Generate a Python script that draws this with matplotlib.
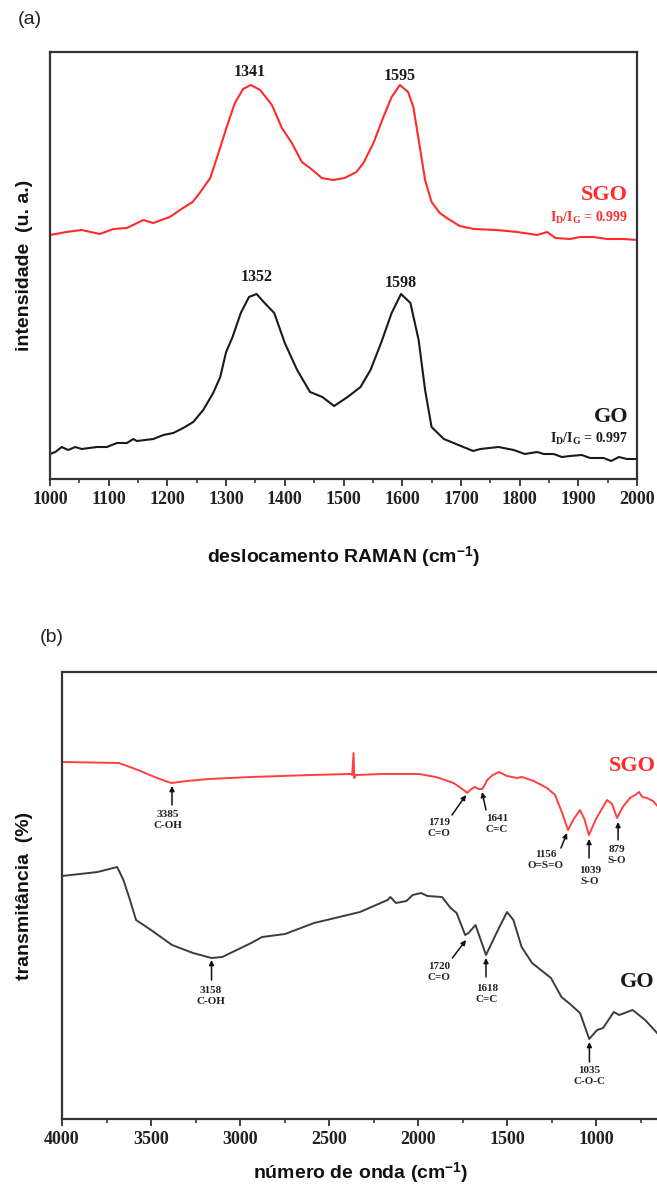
import matplotlib
matplotlib.use("Agg")
import matplotlib.pyplot as plt
from matplotlib.ticker import MultipleLocator, FixedLocator

# ---------------- data: Raman (a) ----------------
raman_sgo_x = [1000, 1028, 1054, 1085, 1108, 1131, 1159, 1176, 1204, 1224, 1243, 1255, 1273, 1287,
               1301, 1315, 1329, 1342, 1358, 1378, 1395, 1412, 1429, 1443, 1463, 1482, 1502, 1522,
               1534, 1551, 1568, 1582, 1596, 1610, 1619, 1630, 1639, 1650, 1664, 1676, 1698, 1722,
               1761, 1796, 1830, 1847, 1861, 1886, 1903, 1926, 1949, 1977, 2000]
raman_sgo_y = [244, 247, 249, 245, 250, 251, 259, 256, 262, 270, 277, 286, 301, 326,
               352, 376, 390, 394, 389, 374, 351, 336, 317, 311, 301, 299, 301, 307,
               316, 336, 362, 382, 394, 387, 372, 332, 299, 277, 266, 261, 253, 250,
               249, 247, 244, 247, 241, 240, 242, 242, 240, 240, 239]

raman_go_x = [1000, 1009, 1020, 1031, 1043, 1054, 1080, 1097, 1114, 1131, 1142, 1148, 1176, 1193,
              1210, 1227, 1244, 1261, 1278, 1290, 1300, 1311, 1325, 1339, 1352, 1364, 1382, 1400,
              1421, 1443, 1464, 1484, 1507, 1529, 1546, 1564, 1582, 1598, 1614, 1628, 1639, 1650,
              1671, 1700, 1721, 1733, 1764, 1790, 1809, 1830, 1841, 1858, 1872, 1886, 1906, 1920,
              1943, 1956, 1969, 1983, 2000]
raman_go_y = [25, 27, 32, 29, 32, 30, 32, 32, 36, 36, 40, 38, 40, 44,
              46, 51, 57, 69, 86, 102, 127, 142, 166, 182, 185, 177, 166, 136,
              109, 87, 82, 73, 82, 92, 109, 136, 166, 185, 176, 139, 89, 52,
              40, 33, 28, 30, 32, 29, 25, 27, 25, 25, 22, 23, 24, 21,
              21, 18, 22, 20, 20]

raman_peaks_sgo = [1341, 1595]
raman_peaks_go = [1352, 1598]
ratio_sgo = "0.999"
ratio_go = "0.997"

# ---------------- data: FTIR (b) ----------------
ftir_sgo_x = [4000, 3680, 3573, 3480, 3404, 3385, 3300, 3174, 2938, 2600, 2380, 2370, 2362, 2358,
              2350, 2200, 1994, 1899, 1800, 1736, 1725, 1700, 1680, 1660, 1640, 1625, 1612, 1580,
              1545, 1500, 1444, 1416, 1350, 1275, 1230, 1190, 1157, 1125, 1090, 1065, 1040, 1000,
              938, 910, 882, 850, 809, 780, 758, 740, 713, 680, 640]
ftir_sgo_y = [357, 356, 349, 342, 337, 336, 338, 340, 342, 344, 345, 344, 366, 341,
              344, 345, 345, 342, 336, 328, 326, 330, 332, 330, 330, 334, 339, 344,
              347, 343, 341, 342, 338, 331, 324, 306, 289, 300, 309, 300, 284, 300,
              319, 315, 301, 312, 321, 324, 327, 322, 321, 318, 310]

ftir_go_x = [4000, 3800, 3690, 3655, 3618, 3584, 3500, 3382, 3264, 3160, 3100, 2937, 2876, 2747,
             2584, 2466, 2326, 2171, 2155, 2124, 2065, 2030, 1983, 1947, 1865, 1817, 1783, 1735,
             1716, 1677, 1618, 1559, 1500, 1464, 1418, 1359, 1253, 1194, 1146, 1090, 1038, 994,
             960, 900, 870, 794, 724, 657, 640]
ftir_go_y = [243, 247, 252, 239, 219, 199, 189, 174, 166, 161, 162, 176, 182, 185,
             196, 201, 207, 219, 222, 216, 218, 224, 226, 223, 222, 211, 206, 184,
             186, 194, 164, 186, 207, 199, 172, 156, 141, 122, 115, 106, 80, 89,
             91, 107, 104, 109, 99, 86, 82]

ftir_ticks = [4000, 3500, 3000, 2500, 2000, 1500, 1000]

# annotations: (label, arrow tail x, tail y, head x, head y, text x, text y)
ftir_sgo_notes = [("3385\nC-OH", 3382, 314, 3382, 333, 3404, 299),
                  ("1719\nC=O", 1809, 304, 1730, 324, 1882, 291),
                  ("1641\nC=C", 1618, 309, 1640, 327, 1556, 295),
                  ("1156\nO=S=O", 1197, 271, 1163, 286, 1281, 259),
                  ("1039\nS-O", 1039, 261, 1039, 280, 1034, 243),
                  ("879\nS-O", 876, 279, 876, 297, 882, 264)]
ftir_go_notes = [("3158\nC-OH", 3160, 139, 3160, 159, 3163, 123),
                 ("1720\nC=O", 1807, 161, 1730, 179, 1882, 147),
                 ("1618\nC=C", 1618, 142, 1618, 161, 1612, 125),
                 ("1035\nC-O-C", 1037, 57, 1037, 77, 1039, 43)]

# ---------------- style ----------------
W, H = 657, 1185
fig = plt.figure(figsize=(W / 100, H / 100), dpi=100)
SANS = "Liberation Sans"
SERIF = "Liberation Serif"
RED = "#ff2b2b"
SPINE = "#333333"
plt.rcParams["mathtext.fontset"] = "custom"
plt.rcParams["mathtext.rm"] = SERIF
plt.rcParams["mathtext.bf"] = SERIF + ":bold"
plt.rcParams["mathtext.it"] = SERIF + ":italic"


def style_axes(ax):
    for s in ax.spines.values():
        s.set_linewidth(1.6)
        s.set_color(SPINE)
    ax.tick_params(axis="x", which="major", direction="out", length=5, width=1.3,
                   color=SPINE, pad=4, top=False)
    ax.tick_params(axis="x", which="minor", direction="out", length=3, width=1.2,
                   color=SPINE, top=False)
    ax.tick_params(axis="y", which="both", left=False, right=False, labelleft=False)
    for lab in ax.get_xticklabels():
        lab.set_fontfamily(SERIF)
        lab.set_fontweight("bold")
        lab.set_fontsize(13)
        lab.set_color("#222222")


# ---------------- panel (a) ----------------
axa = fig.add_axes([50 / W, (H - 479) / H, 587 / W, 427 / H])
axa.plot(raman_sgo_x, raman_sgo_y, color=RED, lw=1.5)
axa.plot(raman_go_x, raman_go_y, color="#1a1a1a", lw=1.5)
axa.set_xlim(1000, 2000)
axa.set_ylim(0, 427)
axa.xaxis.set_major_locator(MultipleLocator(100))
axa.xaxis.set_minor_locator(MultipleLocator(50))
style_axes(axa)

pk_kw = dict(ha="center", va="center", fontfamily=SERIF, fontweight="bold", fontsize=11.5,
             color="#1a1a1a")
axa.text(raman_peaks_sgo[0], 407, str(raman_peaks_sgo[0]), **pk_kw)
axa.text(raman_peaks_sgo[1], 403, str(raman_peaks_sgo[1]), **pk_kw)
axa.text(raman_peaks_go[0], 202, str(raman_peaks_go[0]), **pk_kw)
axa.text(raman_peaks_go[1], 196, str(raman_peaks_go[1]), **pk_kw)

axa.text(1984, 284, "SGO", ha="right", va="center", fontfamily=SERIF, fontweight="bold",
         fontsize=16, color=RED)
axa.text(1984, 261, r"$\mathbf{I_D/I_G}$ = " + ratio_sgo, ha="right", va="center",
         fontfamily=SERIF, fontweight="bold", fontsize=10, color=RED)
axa.text(1986, 62, "GO", ha="right", va="center", fontfamily=SERIF, fontweight="bold",
         fontsize=16, color="#1a1a1a")
axa.text(1984, 40, r"$\mathbf{I_D/I_G}$ = " + ratio_go, ha="right", va="center",
         fontfamily=SERIF, fontweight="bold", fontsize=10, color="#1a1a1a")

axa.set_xlabel(r"deslocamento RAMAN (cm$^{\mathregular{-1}}$)", fontfamily=SANS,
               fontweight="bold", fontsize=14, color="#111111")
axa.xaxis.label.set_va("center")
axa.xaxis.set_label_coords(0.5, (479 - 557) / 427)
axa.set_ylabel("intensidade  (u. a.)", fontfamily=SANS, fontweight="bold", fontsize=14,
               color="#111111")
axa.yaxis.label.set_va("center")
axa.yaxis.set_label_coords((25 - 50) / 587, 0.5)

fig.text(30 / W, 1 - 20 / H, "(a)", ha="center", va="center", fontfamily=SANS,
         fontsize=14, color="#222222")

# ---------------- panel (b) ----------------
bw = (4000 - 400) * 0.178
axb = fig.add_axes([62 / W, (H - 1119) / H, bw / W, 447 / H])
axb.plot(ftir_sgo_x, ftir_sgo_y, color="#ff4040", lw=1.4)
axb.plot(ftir_go_x, ftir_go_y, color="#3c3c3c", lw=1.4)
axb.set_xlim(4000, 400)
axb.set_ylim(0, 447)
axb.xaxis.set_major_locator(FixedLocator(ftir_ticks))
axb.xaxis.set_minor_locator(FixedLocator([3750, 3250, 2750, 2250, 1750, 1250, 750]))
style_axes(axb)

note_kw = dict(ha="center", va="center", fontfamily=SERIF, fontweight="bold", fontsize=8,
               color="#222222", linespacing=1.15)
for lab, tx, ty, hx, hy, lx, ly in ftir_sgo_notes + ftir_go_notes:
    axb.annotate("", xy=(hx, hy), xytext=(tx, ty),
                 arrowprops=dict(arrowstyle="-|>", color="#111111", lw=1.1,
                                 mutation_scale=7, shrinkA=0, shrinkB=0))
    axb.text(lx, ly, lab, **note_kw)

axb.text(798, 353, "SGO", ha="center", va="center", fontfamily=SERIF, fontweight="bold",
         fontsize=16, color=RED)
axb.text(770, 137, "GO", ha="center", va="center", fontfamily=SERIF, fontweight="bold",
         fontsize=16, color="#1a1a1a")

axb.set_xlabel(r"número de onda (cm$^{\mathregular{-1}}$)", fontfamily=SANS,
               fontweight="bold", fontsize=14, color="#111111")
axb.xaxis.label.set_va("center")
axb.xaxis.set_label_coords((361 - 62) / bw, (1119 - 1173) / 447)
axb.set_ylabel("transmitância  (%)", fontfamily=SANS, fontweight="bold", fontsize=14,
               color="#111111")
axb.yaxis.label.set_va("center")
axb.yaxis.set_label_coords((25 - 62) / bw, 0.5)

fig.text(52 / W, 1 - 638 / H, "(b)", ha="center", va="center", fontfamily=SANS,
         fontsize=14, color="#222222")

fig.savefig("out.png", dpi=100)
